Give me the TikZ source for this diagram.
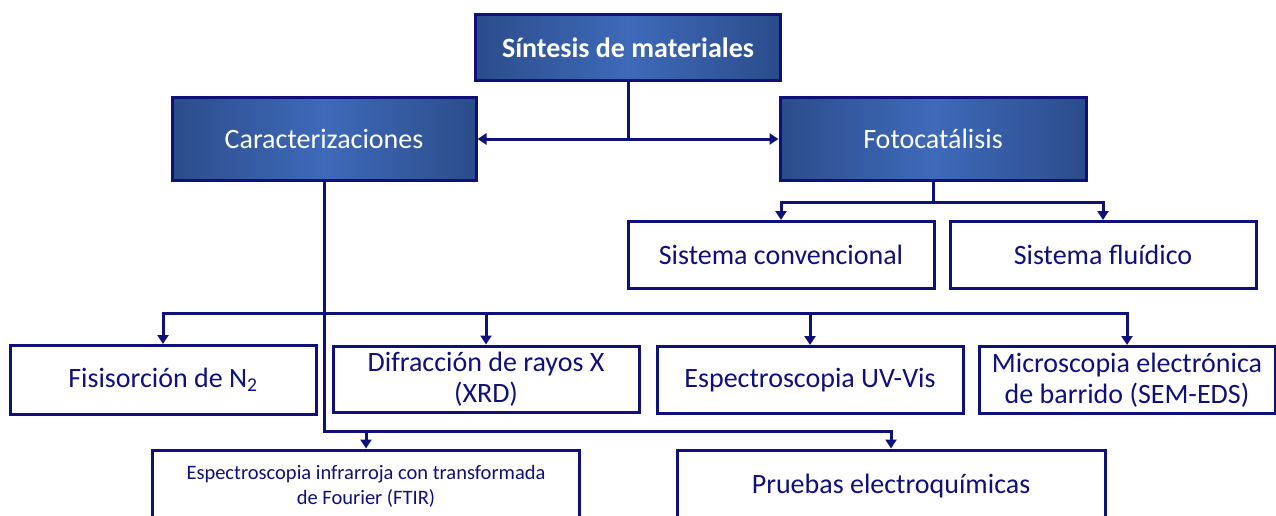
\documentclass[tikz,border=0pt]{standalone}
\usepackage{fontspec}
\setmainfont{Carlito}
\usetikzlibrary{arrows.meta}
\definecolor{navy}{RGB}{16,16,122}
\definecolor{boxdark}{RGB}{43,76,138}
\definecolor{boxlight}{RGB}{62,106,186}

\begin{document}
\begin{tikzpicture}
  [x=1pt,y=-1pt,
   every node/.style={rectangle,draw=navy,line width=3pt,inner sep=0pt,align=center,
     font=\fontsize{28}{31}\selectfont},
   dark/.style={left color=boxdark,right color=boxdark,middle color=boxlight,text=white},
   light/.style={fill=white,text=navy},
   link/.style={draw=navy,line width=3pt,line cap=rect},
   tip/.style={-{Triangle[width=11pt,length=9pt]}}]
  \useasboundingbox (0,0) rectangle (1276,516);
  \clip (0,0) rectangle (1276,516);

  \node[dark,minimum width=305,minimum height=66,font=\fontsize{28}{31}\selectfont\bfseries] (sintesis) at (628,48) {Síntesis de materiales};
  \node[dark,minimum width=304,minimum height=82] (caract) at (324,139) {Caracterizaciones};
  \node[dark,minimum width=306,minimum height=82] (foto) at (933,139) {Fotocatálisis};

  \node[light,minimum width=306,minimum height=67] (conv) at (781,255) {Sistema convencional};
  \node[light,minimum width=306,minimum height=67] (fluid) at (1103,255) {Sistema fluídico};

  \node[light,minimum width=306,minimum height=69] (fisi) at (163,380) {Fisisorción de N\textsubscript{2}};
  \node[light,minimum width=306,minimum height=66] (difr) at (486,379) {Difracción de rayos X\\(XRD)};
  \node[light,minimum width=306,minimum height=67] (uvvis) at (810,380) {Espectroscopia UV-Vis};
  \node[light,minimum width=296,minimum height=67] (micro) at (1127,380) {Microscopia electrónica\\de barrido (SEM-EDS)};

  \node[light,minimum width=427,minimum height=72,font=\fontsize{20.5}{25}\selectfont] (ftir) at (366,486) {Espectroscopia infrarroja con transformada\\de Fourier (FTIR)};
  \node[light,minimum width=428,minimum height=72] (pruebas) at (891,486) {Pruebas electroquímicas};

  \coordinate (jA) at (628,139);
  \coordinate (jB) at (933,202);
  \coordinate (jC) at (324,313);
  \coordinate (jD) at (324,431);

  \draw[link] (sintesis) -- (jA);
  \draw[link,tip] (jA) -- (caract);
  \draw[link,tip] (jA) -- (foto);

  \draw[link] (foto) -- (jB);
  \foreach \to in {conv,fluid}
    \draw[link,tip] (jB) -| (\to);

  \draw[link] (caract) -- (jD);
  \foreach \to in {fisi,difr,uvvis,micro}
    \draw[link,tip] (jC) -| (\to);
  \foreach \to in {ftir,pruebas}
    \draw[link,tip] (jD) -| (\to);

\end{tikzpicture}
\end{document}
